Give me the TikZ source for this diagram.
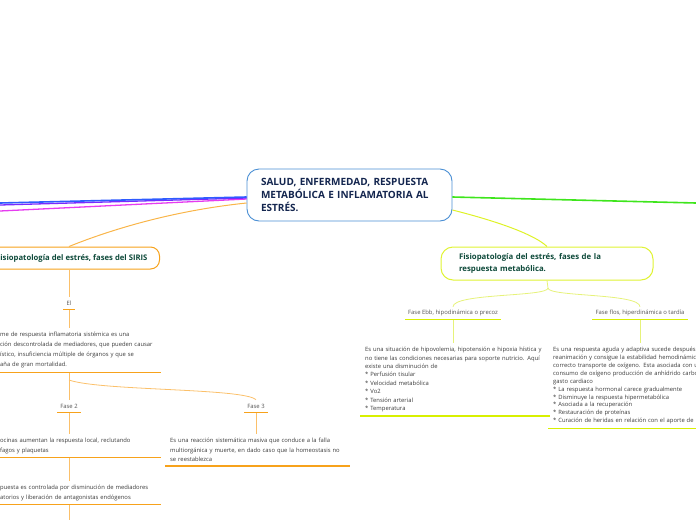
\documentclass[tikz,border=0pt]{standalone}
\usepackage{fontspec}
\setmainfont{Open Sans}
\usetikzlibrary{positioning}
\definecolor{mroot}{HTML}{4A8FD4}
\definecolor{mnavy}{HTML}{14264F}
\definecolor{mtitle}{HTML}{0E4A3A}
\definecolor{mtext}{HTML}{3A3A3A}
\definecolor{mlabel}{HTML}{555555}
\definecolor{morange}{HTML}{F7A21B}
\definecolor{morangelt}{HTML}{FBC06A}
\definecolor{mlime}{HTML}{D8F000}
\definecolor{mlimelt}{HTML}{E6F27A}
\definecolor{mblue}{HTML}{2F5BFF}
\definecolor{mpurple}{HTML}{7A2AFF}
\definecolor{mmagenta}{HTML}{E63CF0}
\definecolor{mgreen}{HTML}{3EE51C}
\tikzset{
  rootbox/.style={draw=mroot, line width=0.9pt, rounded corners=12pt, fill=white,
                  text=mnavy, font=\fontsize{10}{13}\selectfont\bfseries, align=left,
                  text width=177pt, inner xsep=14pt, minimum height=52pt},
  sirisbox/.style={draw=morange, line width=1pt, rounded corners=9pt, fill=white,
                   text=mtitle, font=\fontsize{7.7}{12}\selectfont\bfseries,
                   inner xsep=12pt, minimum height=22pt},
  metabox/.style={draw=mlime!80, line width=1pt, rounded corners=12pt, fill=white,
                  text=mtitle, font=\fontsize{7.8}{12}\selectfont\bfseries, align=left,
                  text width=176pt, inner xsep=18pt, minimum height=33pt},
  faselbl/.style={font=\fontsize{5.9}{7}\selectfont, text=mlabel, inner xsep=3pt,
                  inner ysep=1pt, minimum height=12pt},
  txtblock/.style={font=\fontsize{5.85}{#1}\selectfont, text=mtext, align=left,
                   inner xsep=5pt, inner ysep=4pt, anchor=north west},
  txtblock/.default=9.5,
  oline/.style={draw=morangelt, line width=0.8pt},
  ouline/.style={draw=morange, line width=1.4pt},
  yline/.style={draw=mlimelt, line width=0.8pt},
  yuline/.style={draw=mlime, line width=1.4pt},
}
\begin{document}
\begin{tikzpicture}[x=1pt, y=-1pt]
  \useasboundingbox (0,0) rectangle (696,520);

  %% Central topic
  \node[rootbox] (root) at (349.5,195)
    {SALUD, ENFERMEDAD, RESPUESTA\\METABÓLICA E INFLAMATORIA AL\\ESTRÉS.};

  %% Branches leaving the page
  \coordinate (edgeB) at (0,203);
  \coordinate (edgeP) at (0,205);
  \coordinate (edgeM) at (0,211);
  \coordinate (edgeG) at (696,203);
  \draw[mmagenta, line width=1.3pt] ([yshift=-4pt]root.west) -- (edgeM);
  \draw[mpurple, line width=1.3pt] ([yshift=-3pt]root.west) -- (edgeP);
  \draw[mblue, line width=1.6pt] ([yshift=-2pt]root.west) -- (edgeB);
  \draw[mgreen, line width=1.6pt] ([yshift=-2pt]root.east) -- (edgeG);

  %% Main subtopics
  \node[sirisbox, anchor=east] (siris) at (160,258) {Fisiopatología del estrés, fases del SIRIS};
  \node[metabox] (meta) at (547,263.5) {Fisiopatología del estrés, fases de la\\respuesta metabólica.};

  \node[faselbl] (el) at (69,303) {El};
  \draw[morange!80, line width=1pt] ([yshift=-8pt]root.west) .. controls (160,212) and (95,236) .. (siris.north -| el);
  \draw[mlime!85, line width=1pt] ([yshift=-15pt]root.east) .. controls (500,222) and (535,235) .. (meta.north);

  %% SIRIS side
  \node[txtblock=10, text width=156pt] (sirisdef) at (-5,328)
    {me de respuesta inflamatoria sistémica es una\\
     ción descontrolada de mediadores, que pueden causar\\
     ístico, insuficiencia múltiple de órganos y que se\\
     aña de gran mortalidad.};
  \node[faselbl] (fase2) at (69,406) {Fase 2};
  \node[faselbl] (fase3) at (256,406) {Fase 3};
  \node[txtblock, text width=156pt] (f2def) at (-5,434)
    {ocinas aumentan la respuesta local, reclutando\\
     fagos y plaquetas};
  \node[txtblock, text width=156pt] (f2ctrl) at (-5,481)
    {puesta es controlada por disminución de mediadores\\
     atorios y liberación de antagonistas endógenos};
  \node[txtblock, text width=175pt] (f3def) at (165,434)
    {Es una reacción sistemática masiva que conduce a la falla\\
     multiorgánica y muerte, en dado caso que la homeostasis no\\
     se reestablezca};
  \coordinate (sjoin) at (69,380);
  \coordinate (edgeS) at (69,520);

  \draw[oline] (siris.south -| el) -- (el.north);
  \draw[oline] (el.south) -- (sirisdef.north -| el);
  \draw[oline] (sirisdef.south -| el) -- (fase2.north);
  \draw[oline] (sjoin) .. controls (100,391) and (245,388) .. (fase3.north);
  \draw[oline] (fase2.south) -- (f2def.north -| fase2);
  \draw[oline] (f2def.south -| fase2) -- (f2ctrl.north -| fase2);
  \draw[oline] (f2ctrl.south -| fase2) -- (edgeS);
  \draw[oline] (fase3.south) -- (f3def.north -| fase3);

  \draw[ouline] (el.south west) -- (el.south east);
  \draw[ouline] (fase2.south west) -- (fase2.south east);
  \draw[ouline] (fase3.south west) -- (fase3.south east);
  \draw[ouline] (sirisdef.south west) -- (sirisdef.south east);
  \draw[ouline] (f2def.south west) -- (f2def.south east);
  \draw[ouline] (f2ctrl.south west) -- (f2ctrl.south east);
  \draw[ouline] (f3def.south west) -- (f3def.south east);

  %% Metabolic side
  \node[faselbl] (ebb) at (453,313) {Fase Ebb, hipodinámica o precoz};
  \node[faselbl] (flos) at (640,313) {Fase flos, hiperdinámica o tardía};
  \node[txtblock=8.4, text width=180pt] (ebbdef) at (360,343)
    {Es una situación de hipovolemia, hipotensión e hipoxia hística y\\
     no tiene las condiciones necesarias para soporte nutricio. Aquí\\
     existe una disminución de\\
     {*} Perfusión tisular\\
     {*} Velocidad metabólica\\
     {*} Vo2\\
     {*} Tensión arterial\\
     {*} Temperatura};
  \node[txtblock=7.9, text width=170pt] (flosdef) at (548,343)
    {Es una respuesta aguda y adaptiva sucede después\\
     reanimación y consigue la estabilidad hemodinámic\\
     correcto transporte de oxígeno. Esta asociada con u\\
     consumo de oxígeno producción de anhídrido carbo\\
     gasto cardiaco\\
     {*} La respuesta hormonal carece gradualmente\\
     {*} Disminuye la respuesta hipermetabólica\\
     {*} Asociada a la recuperación\\
     {*} Restauración de proteínas\\
     {*} Curación de heridas en relación con el aporte de};
  \coordinate (mjoin) at (548,288);

  \draw[yline] (meta.south) -- (mjoin);
  \draw[yline] (mjoin) .. controls (548,297) and (453,293) .. (ebb.north);
  \draw[yline] (mjoin) .. controls (548,297) and (640,293) .. (flos.north);
  \draw[yline] (ebb.south) -- (ebbdef.north -| ebb);
  \draw[yline] (flos.south) -- (flosdef.north -| flos);

  \draw[yuline] (ebb.south west) -- (ebb.south east);
  \draw[yuline] (flos.south west) -- (flos.south east);
  \draw[yuline] (ebbdef.south west) -- (ebbdef.south east);
  \draw[yuline] (flosdef.south west) -- (flosdef.south east);
\end{tikzpicture}
\end{document}
